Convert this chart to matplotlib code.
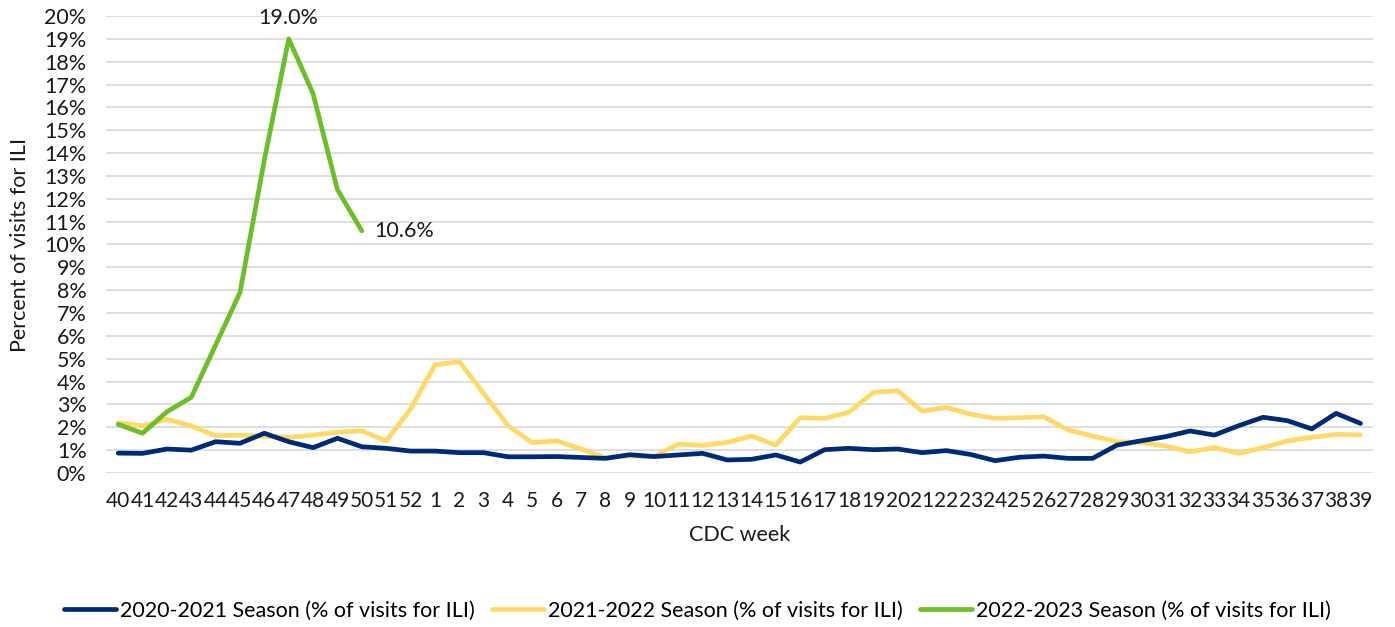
import matplotlib
matplotlib.use("Agg")
import matplotlib.pyplot as plt
from matplotlib.ticker import FuncFormatter, MultipleLocator

# CDC weeks 40..52 then 1..39
WEEKS = [str(w) for w in range(40, 53)] + [str(w) for w in range(1, 40)]

SEASON_2020 = [0.87, 0.86, 1.05, 1.00, 1.37, 1.30, 1.74, 1.37, 1.11, 1.52, 1.15, 1.08, 0.96,
               0.96, 0.89, 0.89, 0.71, 0.71, 0.72, 0.68, 0.64, 0.80, 0.72, 0.79, 0.86, 0.57,
               0.60, 0.79, 0.48, 1.02, 1.08, 1.02, 1.05, 0.89, 0.98, 0.81, 0.54, 0.69, 0.74,
               0.64, 0.64, 1.22, 1.41, 1.59, 1.84, 1.66, 2.07, 2.44, 2.29, 1.93, 2.61, 2.17]
SEASON_2021 = [2.20, 2.06, 2.35, 2.06, 1.63, 1.66, 1.60, 1.56, 1.66, 1.78, 1.85, 1.40, 2.79,
               4.73, 4.87, 3.49, 2.07, 1.33, 1.41, 1.05, 0.67, 0.74, 0.72, 1.27, 1.21, 1.34,
               1.62, 1.22, 2.42, 2.39, 2.66, 3.53, 3.60, 2.71, 2.87, 2.57, 2.39, 2.42, 2.46,
               1.88, 1.62, 1.37, 1.34, 1.18, 0.93, 1.11, 0.86, 1.11, 1.40, 1.56, 1.69, 1.67]
SEASON_2022 = [2.13, 1.74, 2.68, 3.31, 5.60, 7.90, 13.7, 19.0, 16.6, 12.4, 10.6]

NAVY = "#012A74"
YELLOW = "#FFD966"
GREEN = "#6EBE2A"
GRID = "#D9D9D9"
INK = "#1a1a1a"
FONT = "Lato"

plt.rcParams["font.family"] = [FONT, "DejaVu Sans"]

fig = plt.figure(figsize=(13.95, 6.27), dpi=100)
ax = fig.add_axes([0.076, 0.2456, 0.908, 0.7289])

LW = 3.4
x_all = list(range(len(WEEKS)))
ax.plot(x_all, SEASON_2020, color=NAVY, lw=LW, solid_capstyle="round",
        label="2020-2021 Season (% of visits for ILI)", zorder=3)
ax.plot(x_all, SEASON_2021, color=YELLOW, lw=LW, solid_capstyle="round",
        label="2021-2022 Season (% of visits for ILI)", zorder=2)
x22 = x_all[:len(SEASON_2022)]
ax.plot(x22, SEASON_2022, color=GREEN, lw=LW, solid_capstyle="round",
        label="2022-2023 Season (% of visits for ILI)", zorder=4)

# data labels on the peak and on the latest week
peak = SEASON_2022.index(max(SEASON_2022))
ax.annotate(f"{SEASON_2022[peak]:.1f}%", (x22[peak], SEASON_2022[peak]),
            xytext=(0, 8), textcoords="offset points", ha="center", va="bottom",
            fontsize=15.5, color=INK)
ax.annotate(f"{SEASON_2022[-1]:.1f}%", (x22[-1], SEASON_2022[-1]),
            xytext=(9, 0), textcoords="offset points", ha="left", va="center",
            fontsize=15.5, color=INK)

ax.set_xlim(-0.5, len(WEEKS) - 0.5)
ax.set_ylim(0, 20)
ax.set_xticks(x_all)
ax.set_xticklabels(WEEKS)
ax.yaxis.set_major_locator(MultipleLocator(1))
ax.yaxis.set_major_formatter(FuncFormatter(lambda v, _: f"{v:.0f}%"))
ax.grid(axis="y", color=GRID, lw=1.2, zorder=0)
ax.set_axisbelow(True)
for s in ax.spines.values():
    s.set_visible(False)
ax.tick_params(length=0, labelsize=15.5, colors=INK)
ax.tick_params(axis="x", labelsize=15, pad=13)
ax.tick_params(axis="y", pad=14)
ax.set_xlabel("CDC week", fontsize=15.5, color=INK, labelpad=10)
ax.set_ylabel("Percent of visits for ILI", fontsize=15.5, color=INK, labelpad=10)

fig.legend(loc="center", bbox_to_anchor=(0.5, 0.0255), ncol=3, frameon=False,
           fontsize=15.5, handlelength=2.4, handletextpad=0.2, columnspacing=0.8)

fig.savefig("out.png", dpi=100)
